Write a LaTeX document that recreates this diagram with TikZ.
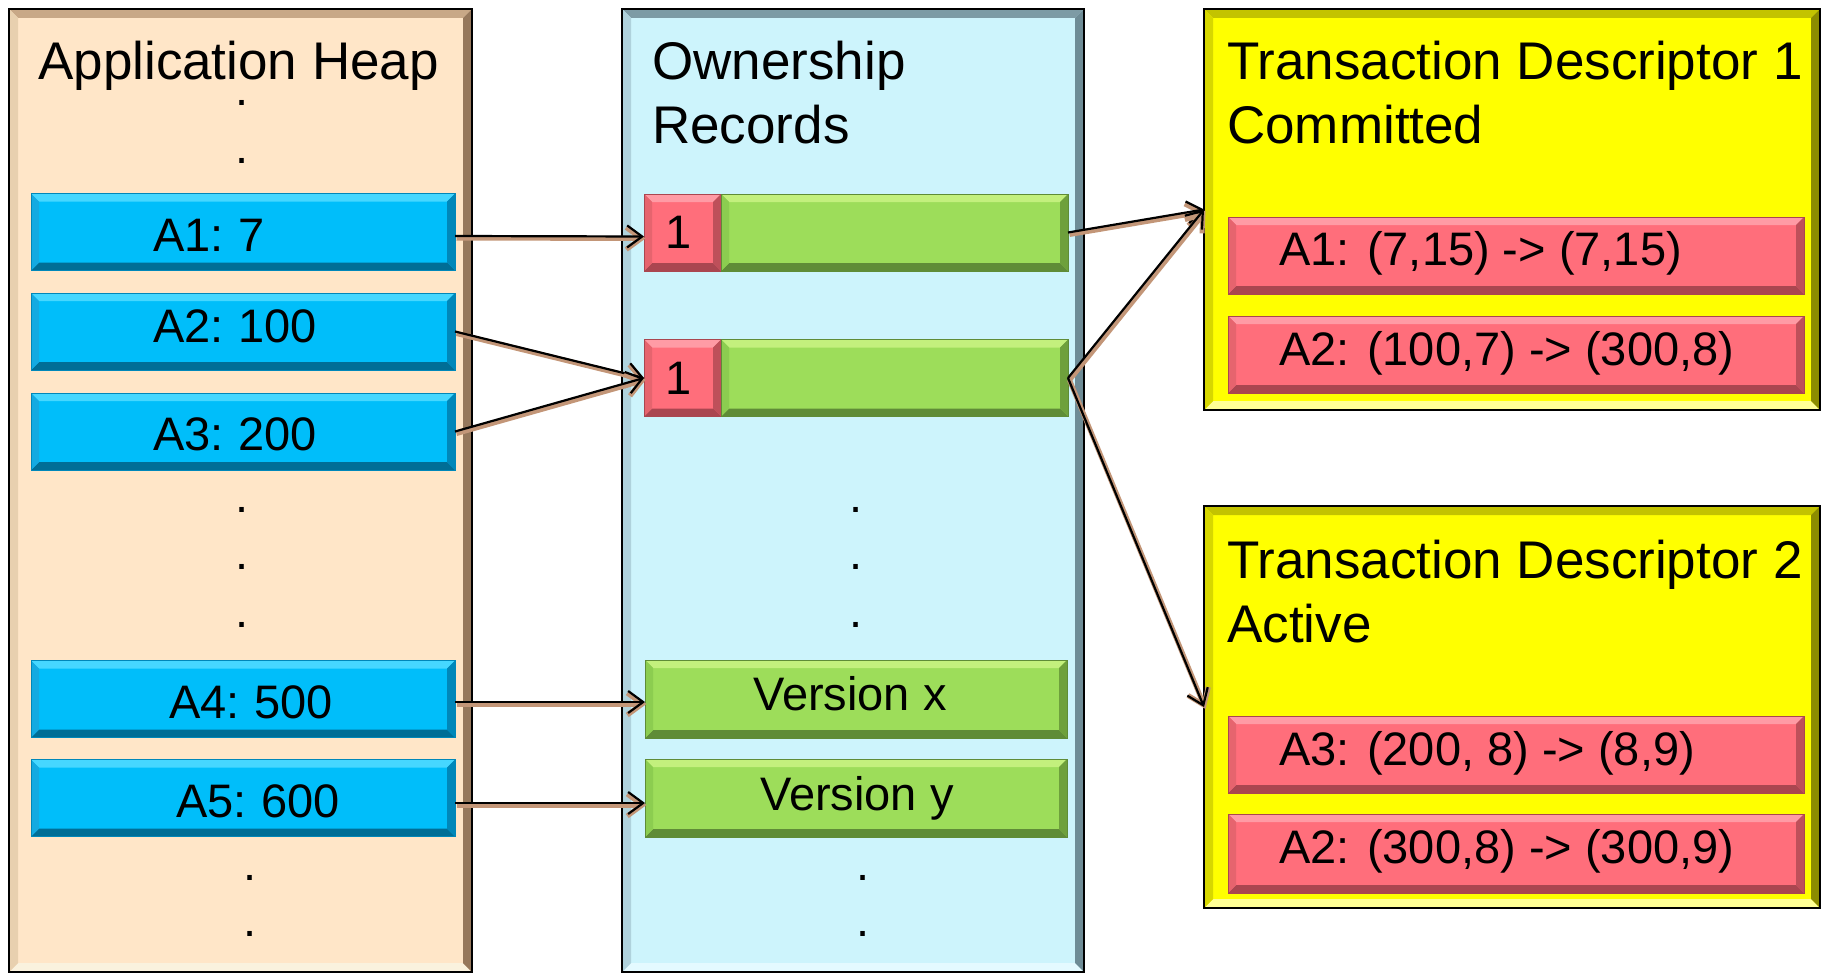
\documentclass[tikz,border=0pt]{standalone}
\usepackage{fontspec}
\setmainfont{Liberation Sans}
\usetikzlibrary{arrows.meta}

% column and panel colours
\definecolor{heapfill}{RGB}{255,230,200}
\definecolor{heaptop}{RGB}{200,168,135}
\definecolor{heapleft}{RGB}{232,208,175}
\definecolor{heapright}{RGB}{150,120,92}
\definecolor{heapbot}{RGB}{250,242,222}
\definecolor{orfill}{RGB}{205,244,252}
\definecolor{ortop}{RGB}{125,155,165}
\definecolor{orleft}{RGB}{175,210,220}
\definecolor{orright}{RGB}{110,140,150}
\definecolor{orbot}{RGB}{228,250,255}
\definecolor{tdfill}{RGB}{255,255,0}
\definecolor{tdtop}{RGB}{195,195,0}
\definecolor{tdleft}{RGB}{215,215,0}
\definecolor{tdright}{RGB}{140,140,0}
\definecolor{tdbot}{RGB}{255,255,150}
% button colours
\definecolor{bluefill}{RGB}{0,190,250}
\definecolor{bluetop}{RGB}{70,215,255}
\definecolor{bluebot}{RGB}{0,110,150}
\definecolor{blueleft}{RGB}{20,170,225}
\definecolor{blueright}{RGB}{0,135,185}
\definecolor{greenfill}{RGB}{157,221,90}
\definecolor{greentop}{RGB}{195,240,125}
\definecolor{greenbot}{RGB}{95,140,55}
\definecolor{greenleft}{RGB}{140,205,80}
\definecolor{greenright}{RGB}{110,160,60}
\definecolor{redfill}{RGB}{255,110,123}
\definecolor{redtop}{RGB}{255,155,165}
\definecolor{redbot}{RGB}{170,70,80}
\definecolor{redleft}{RGB}{230,100,110}
\definecolor{redright}{RGB}{190,80,90}
\definecolor{arrowshade}{RGB}{195,150,120}

\tikzset{
  % filled rectangle with four bevelled edges: fill, top, bottom, left, right, depth
  bevel/.style n args={6}{fill=#1, path picture={
    \fill[#2] (path picture bounding box.north west) -- (path picture bounding box.north east)
      -- ([xshift=-#6,yshift=-#6]path picture bounding box.north east)
      -- ([xshift=#6,yshift=-#6]path picture bounding box.north west) -- cycle;
    \fill[#3] (path picture bounding box.south west) -- (path picture bounding box.south east)
      -- ([xshift=-#6,yshift=#6]path picture bounding box.south east)
      -- ([xshift=#6,yshift=#6]path picture bounding box.south west) -- cycle;
    \fill[#4] (path picture bounding box.north west) -- ([xshift=#6,yshift=-#6]path picture bounding box.north west)
      -- ([xshift=#6,yshift=#6]path picture bounding box.south west) -- (path picture bounding box.south west) -- cycle;
    \fill[#5] (path picture bounding box.north east) -- ([xshift=-#6,yshift=-#6]path picture bounding box.north east)
      -- ([xshift=-#6,yshift=#6]path picture bounding box.south east) -- (path picture bounding box.south east) -- cycle;
  }},
  box/.style={rectangle, inner sep=0pt, outer sep=0pt},
  heapcol/.style={box, bevel={heapfill}{heaptop}{heapbot}{heapleft}{heapright}{9pt}, draw=black, line width=2.5pt},
  orcol/.style={box, bevel={orfill}{ortop}{orbot}{orleft}{orright}{9pt}, draw=black, line width=2.5pt},
  tdpanel/.style={box, bevel={tdfill}{tdtop}{tdbot}{tdleft}{tdright}{9pt}, draw=black, line width=2.5pt},
  bluebtn/.style={box, bevel={bluefill}{bluetop}{bluebot}{blueleft}{blueright}{8pt}, draw=blueright, line width=0.8pt},
  greenbtn/.style={box, bevel={greenfill}{greentop}{greenbot}{greenleft}{greenright}{8pt}, draw=greenbot, line width=0.8pt},
  redbtn/.style={box, bevel={redfill}{redtop}{redbot}{redleft}{redright}{8pt}, draw=redbot, line width=0.8pt},
  ttl/.style={inner sep=0pt, anchor=base west, font=\fontsize{53}{63}\selectfont},
  lbl/.style={inner sep=0pt, anchor=base west, font=\fontsize{47}{56}\selectfont},
  dotmark/.style={inner sep=0pt, anchor=base, font=\fontsize{47}{56}\selectfont},
  conn/.style={draw=black, line width=2.2pt,
    -{Straight Barb[length=15pt,width=22pt,line width=2.2pt]}},
  connshade/.style={draw=arrowshade, line width=5pt,
    -{Straight Barb[length=15pt,width=22pt,line width=5pt]},
    transform canvas={xshift=1.5pt,yshift=-2pt}}
}

% a pointer: soft shadow underneath, dark line on top
\newcommand\tielink[2]{\draw[connshade] #1 -- #2; \draw[conn] #1 -- #2;}

\begin{document}
\begin{tikzpicture}[x=1pt,y=-1pt]
\useasboundingbox (0,0) rectangle (1826,974);

% columns and descriptor panels
\node[heapcol, minimum width=463pt, minimum height=963pt] (heap) at (240.5,490.5) {};
\node[orcol, minimum width=462pt, minimum height=963pt] (own) at (853,490.5) {};
\node[tdpanel, minimum width=616pt, minimum height=401pt] (td1) at (1512,209.5) {};
\node[tdpanel, minimum width=616pt, minimum height=402pt] (td2) at (1512,707) {};

% titles
\node[ttl] (heapT) at (38,80) {Application Heap};
\node[ttl] (ownTa) at (652,80) {Ownership};
\node[ttl] (ownTb) at (652,143) {Records};
\node[ttl] (td1Ta) at (1227,80) {Transaction Descriptor 1};
\node[ttl] (td1Tb) at (1227,143) {Committed};
\node[ttl] (td2Ta) at (1227,578) {Transaction Descriptor 2};
\node[ttl] (td2Tb) at (1227,642) {Active};

% heap cells
\node[bluebtn, minimum width=424pt, minimum height=77pt] (a1) at (243,232) {};
\node[bluebtn, minimum width=424pt, minimum height=77pt] (a2) at (243,331.5) {};
\node[bluebtn, minimum width=424pt, minimum height=77pt] (a3) at (243,431.5) {};
\node[bluebtn, minimum width=424pt, minimum height=77pt] (a4) at (243,699) {};
\node[bluebtn, minimum width=424pt, minimum height=77pt] (a5) at (243,798) {};
\node[lbl] (a1t) at (153,251) {A1:\hspace{-3pt} 7};
\node[lbl] (a2t) at (153,342) {A2:\hspace{-3pt} 100};
\node[lbl] (a3t) at (153,450) {A3:\hspace{-3pt} 200};
\node[lbl] (a4t) at (169,718) {A4:\hspace{-3pt} 500};
\node[lbl] (a5t) at (176,817) {A5:\hspace{-3pt} 600};

% ownership records
\node[redbtn, minimum width=77pt, minimum height=77pt, font=\fontsize{47}{56}\selectfont] (or1k) at (682.5,232.5) {\hspace*{-8pt}1};
\node[greenbtn, minimum width=347pt, minimum height=77pt] (or1v) at (894.5,232.5) {};
\node[redbtn, minimum width=77pt, minimum height=77pt, font=\fontsize{47}{56}\selectfont] (or2k) at (682.5,378) {\hspace*{-8pt}1};
\node[greenbtn, minimum width=347pt, minimum height=77pt] (or2v) at (894.5,378) {};
\node[greenbtn, minimum width=422pt, minimum height=78pt] (vx) at (856,699) {};
\node[greenbtn, minimum width=422pt, minimum height=78pt] (vy) at (856,798) {};
\node[dotmark] (vxt) at (850,710) {Version x};
\node[dotmark] (vyt) at (857,810) {Version y};

% descriptor entries
\node[redbtn, minimum width=576pt, minimum height=77pt] (td1r1) at (1516,255.5) {};
\node[redbtn, minimum width=576pt, minimum height=77pt] (td1r2) at (1516,354.5) {};
\node[redbtn, minimum width=576pt, minimum height=77pt] (td2r1) at (1516,754.5) {};
\node[redbtn, minimum width=576pt, minimum height=79pt] (td2r2) at (1516,853.5) {};
\node[lbl] (td1r1t) at (1279,265) {A1: (7,15) -> (7,15)};
\node[lbl] (td1r2t) at (1279,365) {A2: (100,7) -> (300,8)};
\node[lbl] (td2r1t) at (1279,765) {A3: (200, 8) -> (8,9)};
\node[lbl] (td2r2t) at (1279,863) {A2: (300,8) -> (300,9)};

% elision dots
\foreach \px/\py [count=\i] in {242/102,242/160,242/509,242/566,242/624,250/877,250/933}
  \node[dotmark] (hdot\i) at (\px,\py+3) {.};
\foreach \px/\py [count=\i] in {856/509,856/566,856/624,863/877,863/933}
  \node[dotmark] (odot\i) at (\px,\py+3) {.};

% pointers
\tielink{([yshift=-4pt]a1.east)}{([yshift=-4pt]or1k.west)}
\tielink{(a2.east)}{(or2k.west)}
\tielink{(a3.east)}{(or2k.west)}
\tielink{([yshift=-3pt]a4.east)}{([yshift=-3pt]vx.west)}
\tielink{([yshift=-5pt]a5.east)}{([yshift=-5pt]vy.west)}
\tielink{(or1v.east)}{(td1.west)}
\tielink{(or2v.east)}{(td1.west)}
\tielink{(or2v.east)}{(td2.west)}
\end{tikzpicture}
\end{document}
